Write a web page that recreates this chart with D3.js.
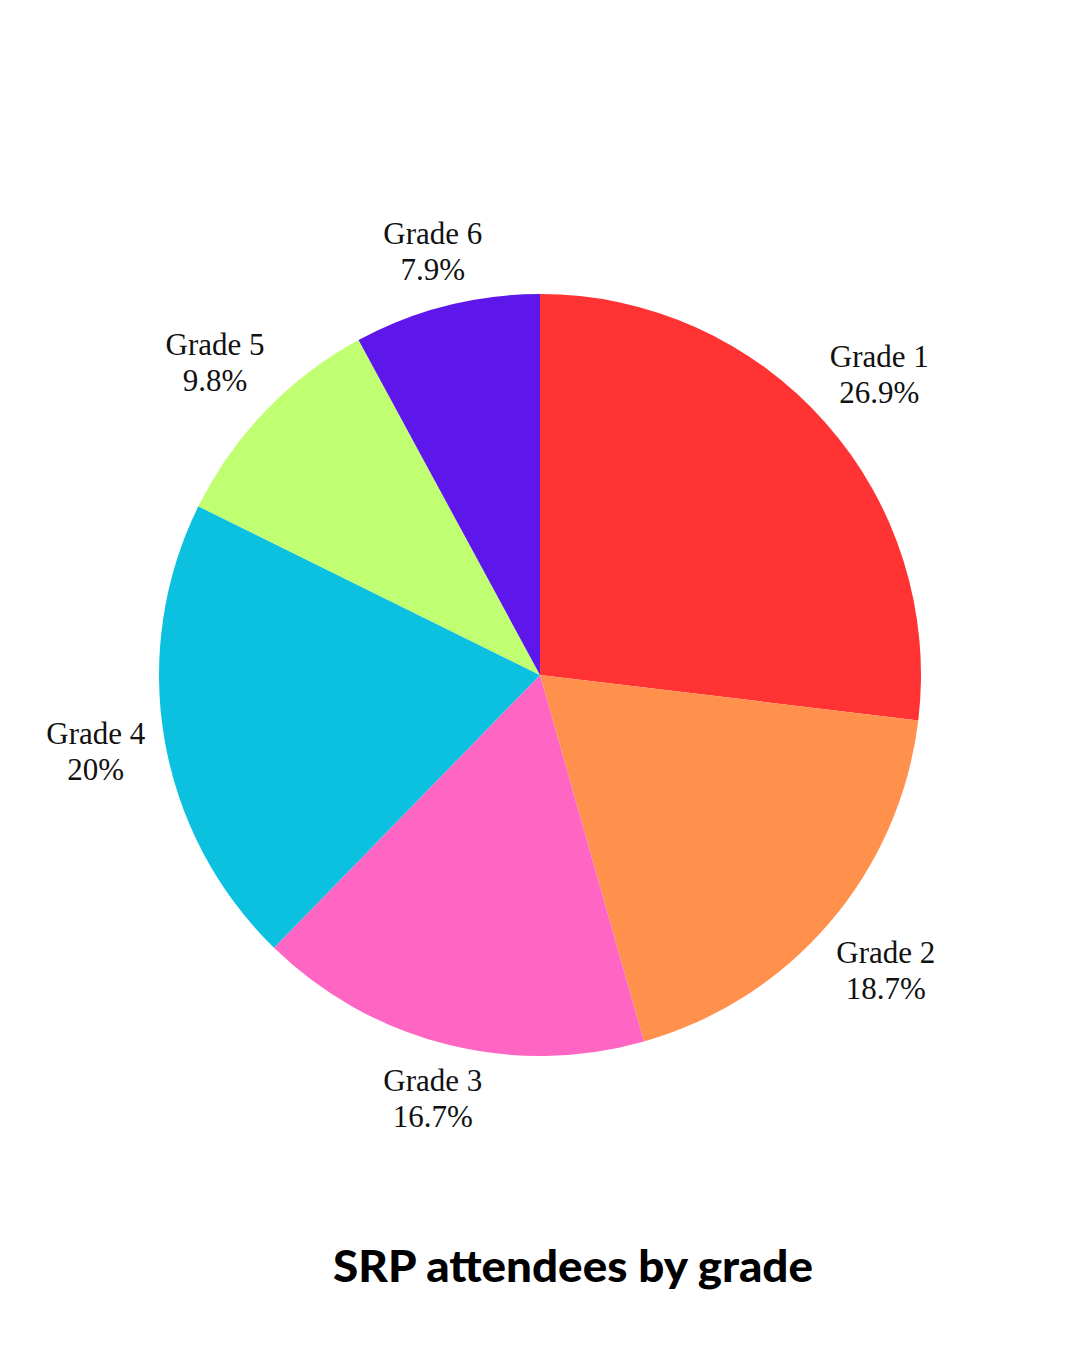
<!DOCTYPE html>
<html><head><meta charset="utf-8">
<script src="https://cdn.jsdelivr.net/npm/d3@7"></script>
<style>body{margin:0;background:#fff}svg{display:block}</style>
</head><body>
<svg id="chart" width="1080" height="1350"></svg>
<script>
const categories = ["Grade 1","Grade 2","Grade 3","Grade 4","Grade 5","Grade 6"];
const values = [26.9, 18.7, 16.7, 20, 9.8, 7.9];
const valueLabels = ["26.9%","18.7%","16.7%","20%","9.8%","7.9%"];
const colors = ["#FF3333","#FF914D","#FF66C4","#0CC0DF","#C1FF72","#5E17EB"];
const title = "SRP attendees by grade";

const W=1080,H=1350,cx=540,cy=675,R=381,gap=19,lineH=36;
const svg=d3.select("#chart");
svg.append("rect").attr("width",W).attr("height",H).attr("fill","#fff");
const data=categories.map((c,i)=>({c,v:values[i],lbl:valueLabels[i],col:colors[i]}));
const pie=d3.pie().value(d=>d.v).sort(null);
const arc=d3.arc().innerRadius(0).outerRadius(R);
const arcs=pie(data);
const g=svg.append("g").attr("transform",`translate(${cx},${cy})`);
g.selectAll("path").data(arcs).join("path").attr("d",arc).attr("fill",d=>d.data.col);

const lg=svg.append("g");
arcs.forEach(a=>{
  const t=lg.append("text").attr("font-family","'Liberation Serif',serif").attr("font-size",31)
    .attr("fill","#111").attr("text-anchor","middle");
  t.append("tspan").attr("x",0).attr("dy",0).text(a.data.c);
  t.append("tspan").attr("x",0).attr("dy",lineH).text(a.data.lbl);
  const bb=t.node().getBBox();
  const w=bb.width/2,h=bb.height/2;
  const m=(a.startAngle+a.endAngle)/2;
  const sx=Math.sin(m),sy=-Math.cos(m);
  const d=R+gap+Math.min(Math.abs(sx)>1e-6?w/Math.abs(sx):1e9,Math.abs(sy)>1e-6?h/Math.abs(sy):1e9);
  const px=cx+d*sx,py=cy+d*sy;
  const ox=bb.x+bb.width/2,oy=bb.y+bb.height/2;
  t.attr("transform",`translate(${px-ox},${py-oy})`);
});

svg.append("text").attr("x",573).attr("y",1282).attr("text-anchor","middle")
  .attr("font-family","Lato,'Noto Sans',sans-serif").attr("font-weight",900).attr("font-size",44)
  .attr("fill","#000").attr("textLength",480).attr("lengthAdjust","spacingAndGlyphs").text(title);
</script>
</body></html>
